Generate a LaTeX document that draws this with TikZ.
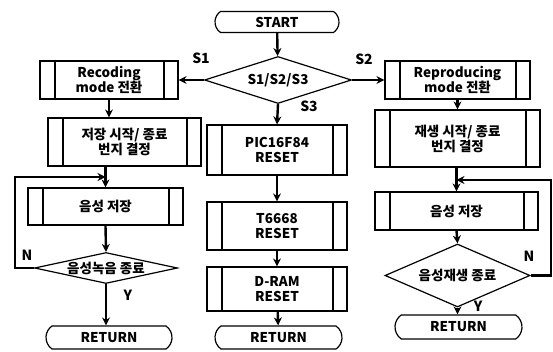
\documentclass[tikz,border=0pt]{standalone}
\usepackage{fontspec}
\setmainfont{Noto Sans CJK KR}
\usetikzlibrary{arrows.meta,shapes.geometric,shapes.misc,positioning}

\begin{document}
\begin{tikzpicture}[x=1pt,y=-1pt,>={Stealth[length=8pt,width=8pt]},
  font=\fontsize{13.5}{15}\selectfont\bfseries,
  every node/.style={inner sep=0pt,align=center},
  flowline/.style={->,line width=2.4pt},
  termbox/.style={draw,line width=1.2pt,rounded rectangle,rounded rectangle arc length=110,
    minimum width=126pt,minimum height=23pt},
  procbox/.style={draw,line width=1.2pt,minimum width=#1,
    path picture={
      \draw[line width=1.2pt] ([xshift=15pt]path picture bounding box.north west)
        -- ([xshift=15pt]path picture bounding box.south west);
      \draw[line width=1.2pt] ([xshift=-14pt]path picture bounding box.north east)
        -- ([xshift=-14pt]path picture bounding box.south east);}},
  decbox/.style={draw,line width=1.2pt,diamond,aspect=3},
  tag/.style={font=\fontsize{14}{16}\selectfont\bfseries}]
  \useasboundingbox (0,0) rectangle (553,352);

  % start and selection
  \node[termbox,minimum width=124pt,minimum height=21pt] (start) at (277,22) {START};
  \node[decbox,minimum width=147pt,minimum height=47pt] (sel) at (278,80) {S1/S2/S3};

  % recording branch
  \node[procbox=138pt,minimum height=38pt] (rec) at (109,80) {Recoding\\mode 전환};
  \node[procbox=153pt,minimum height=48pt] (addrL) at (124.5,142) {저장 시작/ 종료\\번지 결정};
  \node[procbox=155pt,minimum height=37pt] (saveL) at (105.5,206.5) {음성 저장};
  \node[decbox,minimum width=143pt,minimum height=31pt] (endL) at (106,268) {\makebox[0pt]{음성녹음 종료}};
  \node[termbox] (retL) at (109,337.5) {RETURN};

  % reset branch
  \node[procbox=140pt,minimum height=50pt] (pic) at (277,150) {PIC16F84\\RESET};
  \node[procbox=140pt,minimum height=48pt] (lcd) at (277,226) {T6668\\RESET};
  \node[procbox=140pt,minimum height=44pt] (dram) at (277,289) {D-RAM\\RESET};
  \node[termbox,minimum width=127pt] (retM) at (278.5,337.5) {RETURN};

  % reproducing branch
  \node[procbox=145pt,minimum height=38pt] (rep) at (457.5,80) {Reproducing\\mode 전환};
  \node[procbox=165pt,minimum height=57pt] (addrR) at (457.5,138.5) {재생 시작/ 종료\\번지 결정};
  \node[procbox=163pt,minimum height=38pt] (saveR) at (456.5,211) {음성 저장};
  \node[decbox,minimum width=145pt,minimum height=63pt] (endR) at (457.5,275.5) {\makebox[0pt]{음성재생 종료}};
  \node[termbox,minimum width=127pt,minimum height=24pt] (retR) at (458.5,327) {RETURN};

  % branch labels
  \node[tag] (s1) at (201,58) {S1};
  \node[tag] (s2) at (364,59) {S2};
  \node[tag] (s3) at (309,106) {S3};
  \node[tag] (nL) at (27,255) {N};
  \node[tag] (yL) at (128,295) {Y};
  \node[tag] (nR) at (529,256) {N};
  \node[tag] (yR) at (478,306) {Y};

  \coordinate (loopL) at (15,177);
  \coordinate (loopR) at (551,180);

  \draw[flowline] (start) -- (sel);
  \draw[flowline] (sel.west) -- (rec.east);
  \draw[flowline] (sel.east) -- (rep.west);
  \draw[flowline] (sel.south) -- (pic.north);

  \draw[flowline] (rec.south) -- (rec.south |- addrL.north);
  \draw[flowline] (saveL.north |- addrL.south) -- (saveL.north);
  \draw[flowline] (saveL.south) -- (endL.north);
  \draw[flowline] (endL.south) -- (endL.south |- retL.north);
  \draw[flowline] (endL.west) -| (loopL) -- (loopL -| saveL.north);

  \draw[flowline] (pic) -- (lcd);
  \draw[flowline] (lcd) -- (dram);
  \draw[flowline] (dram) -- (retM);

  \draw[flowline] (rep.south) -- (rep.south |- addrR.north);
  \draw[flowline] (saveR.north |- addrR.south) -- (saveR.north);
  \draw[flowline] (saveR.south) -- (endR.north);
  \draw[flowline] (endR.south) -- (endR.south |- retR.north);
  \draw[flowline] (endR.east) -| (loopR) -- (loopR -| saveR.north);
\end{tikzpicture}
\end{document}
